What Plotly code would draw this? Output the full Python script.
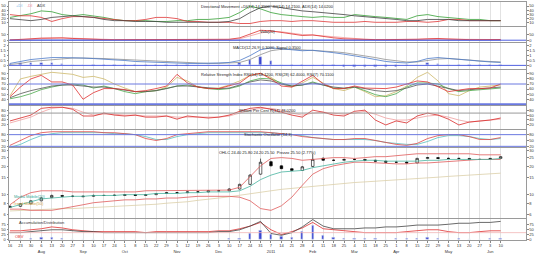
import plotly.graph_objects as go
from plotly.subplots import make_subplots
import pandas as pd

# ---------------- data (weekly readings) ----------------
dates = pd.date_range("2010-07-16", periods=48, freq="7D")

dmi_plus = [22,26,31,38,36,29,26,29,26,22, 17,14,14,14,12,12,14,14,17,17,
            19,22,34,50,43,34,29,26,24,22, 24,22,22,29,26,24,22,19,17,26,
            29,24,22,19,17,17,14,14]
dmi_minus = [29,26,26,22,12,19,24,24,22,19, 17,14,14,17,22,22,19,12,12,10,
             10,10,7,7,12,14,14,12,14,14, 12,10,10,10,12,10,10,10,12,12,
             10,12,17,17,14,14,14,14]
adx = [19,17,14,17,22,24,26,24,22,17, 14,14,12,12,12,10,10,10,10,10,
       10,12,19,34,46,50,46,41,38,36, 34,31,29,26,24,22,19,17,14,14,
       17,17,17,14,14,14,14,14]

vol_red = [2,5,12,18,22,20,15,10,6,5, 4,4,4,4,4,4,5,5,4,4,
           5,8,20,55,85,80,65,50,40,45, 30,20,12,8,6,5,5,5,6,8,
           12,15,10,6,5,5,5,6]
vol_pink = [2,3,8,14,18,19,17,13,9,7, 5,5,4,4,4,4,4,5,5,4,
            5,6,12,35,62,75,72,60,48,44, 36,26,18,12,8,6,5,5,5,7,
            9,12,11,8,6,5,5,5]
vol_blue = [1,1,1,1,1,1,1,1,1,1, 1,1,1,1,1,1,1,1,1,1,
            1,1,1,1,2,2,2,2,2,2, 1,1,1,1,1,1,1,1,1,1,
            1,1,1,1,1,1,1,1]

macd = [0.2,0.4,0.6,0.7,0.8,0.8,0.8,0.75,0.7,0.65, 0.6,0.5,0.4,0.35,0.3,0.25,0.2,0.2,0.2,0.2,
        0.25,0.3,0.5,1.0,1.6,1.8,1.7,1.6,1.5,1.55, 1.45,1.3,1.15,1.0,0.8,0.6,0.4,0.3,0.25,0.4,
        0.7,0.8,0.7,0.6,0.5,0.4,0.35,0.3]
macd_signal = [0.1,0.2,0.4,0.5,0.6,0.7,0.75,0.75,0.75,0.7, 0.65,0.6,0.5,0.45,0.4,0.35,0.3,0.25,0.2,0.2,
               0.2,0.25,0.3,0.6,1.1,1.5,1.65,1.65,1.6,1.55, 1.5,1.4,1.3,1.15,1.0,0.8,0.6,0.45,0.35,0.35,
               0.5,0.65,0.7,0.65,0.55,0.45,0.4,0.35]
macd_hist = [0.1,0.2,0.2,0.2,0.2,0.1,0.05,0,-0.05,-0.05, -0.05,-0.1,-0.1,-0.1,-0.1,-0.1,-0.1,-0.05,0,0,
             0.05,0.05,0.2,0.6,0.9,0.5,0.05,-0.05,-0.1,0, -0.05,-0.1,-0.15,-0.15,-0.2,-0.2,-0.2,-0.15,-0.1,0.05,
             0.2,0.15,0,-0.05,-0.05,-0.05,-0.05,-0.05]

rsi_tan = [47,80,85,89,93,91,89,83,85,80, 70,62,55,55,57,64,83,76,64,61,
           62,68,76,87,91,83,70,64,72,83, 72,61,57,64,55,45,47,55,66,83,
           93,76,51,47,57,64,66,68]
rsi_red = [45,64,80,87,74,74,68,40,53,61, 61,59,55,57,61,66,89,72,64,61,
           61,66,72,87,91,80,66,64,76,87, 70,61,61,66,62,61,61,64,70,76,
           74,64,55,58,61,61,62,70]
rsi_green = [41,45,51,59,64,68,70,68,62,66, 61,55,51,55,57,61,66,68,64,61,
             59,61,66,76,81,80,72,66,68,74, 68,62,61,64,57,49,45,51,64,72,
             72,70,61,55,57,59,61,62]
rsi_dark = [43,51,57,61,66,68,68,66,64,64, 61,57,55,55,57,61,66,66,64,62,
            61,62,68,74,78,76,70,66,68,72, 68,64,62,64,61,57,55,57,62,68,
            70,66,61,57,59,61,62,64]
rsi_levels = [70, 30]

willr_red = [35,48,61,91,96,96,87,57,57,70, 61,57,61,52,52,57,43,57,52,48,
             52,61,78,91,96,87,74,61,52,83, 74,61,57,78,83,39,17,35,26,57,
             70,61,43,17,30,35,39,48]
willr_pink = [26,39,52,74,91,96,91,74,61,65, 65,61,61,57,57,57,52,52,52,52,
              52,57,70,83,91,91,83,70,61,70, 74,70,65,70,78,65,48,39,39,48,
              57,61,52,39,30,35,39,43]
willr_levels = [70]

stoch_k = [25,50,75,90,95,95,95,95,95,90, 90,85,80,60,50,60,80,85,90,95,
           95,95,95,95,95,90,85,80,70,65, 60,55,55,60,60,50,40,30,25,35,
           60,75,80,80,70,55,55,65]
stoch_d = [15,30,55,75,85,90,90,90,90,90, 85,85,80,70,55,55,70,80,85,90,
           90,90,90,90,90,90,85,80,75,65, 60,55,55,55,55,50,40,35,30,30,
           45,65,75,75,70,60,55,60]
stoch_levels = [80, 20]

p_open = [7.2,7.4,7.9,8.5,9.2,9.7,9.5,9.4,9.5,9.7, 9.8,9.7,9.9,9.7,9.9,10.2,10.4,10.4,10.6,10.6,
          10.9,10.9,11.4,12.8,16.5,22.5,20.3,18.9,18.1,20.0, 24.5,23.3,23.3,23.8,23.8,23.3,22.8,22.2,22.2,21.8,
          24.4,24.9,24.4,24.4,24.4,23.8,23.8,24.4]
p_high = [7.6,8.0,8.6,9.3,9.9,9.8,9.7,9.7,9.9,9.9, 9.9,10.0,10.0,10.0,10.3,10.5,10.6,10.7,10.8,11.0,
          11.1,11.6,13.0,16.5,24.3,23.0,20.5,19.1,20.2,27.4, 25.0,23.8,24.2,24.3,24.0,23.6,23.0,22.6,22.6,24.8,
          25.3,25.1,24.9,24.8,24.6,24.2,24.6,25.8]
p_low = [7.1,7.3,7.8,8.4,9.1,9.4,9.3,9.3,9.4,9.6, 9.6,9.6,9.6,9.6,9.8,10.1,10.3,10.3,10.5,10.5,
         10.8,10.8,11.3,12.6,16.3,20.0,18.7,17.9,18.0,19.7, 23.0,23.0,23.1,23.5,23.1,22.6,22.0,21.9,21.6,21.7,
         24.2,24.1,24.1,24.1,23.6,23.6,23.6,24.2]
p_close = [7.4,7.9,8.5,9.1,9.7,9.5,9.5,9.5,9.7,9.7, 9.7,9.9,9.7,9.9,10.2,10.4,10.4,10.6,10.6,10.9,
           10.9,11.4,12.8,16.1,22.2,20.3,18.9,18.1,19.8,23.8, 23.3,23.3,23.8,23.8,23.3,22.8,22.2,22.2,21.8,24.4,
           24.9,24.4,24.4,24.4,23.8,23.8,24.4,25.5]
bb_upper = [7.7,9.3,10.4,10.9,10.9,10.9,10.6,10.6,10.6,10.6, 10.6,10.6,10.6,10.9,10.9,10.9,10.9,10.9,10.9,10.9,
            11.1,11.1,11.9,15.4,20.3,24.4,24.9,24.4,23.3,23.8, 24.4,24.9,24.9,24.4,24.9,25.5,25.5,26.1,26.7,27.4,
            27.4,27.4,27.4,27.4,27.4,26.7,26.7,26.7]
bb_lower = [6.9,6.9,6.7,6.7,6.7,7.0,7.4,7.7,8.1,8.3, 8.5,8.7,8.7,8.9,8.9,9.1,9.1,9.3,9.5,9.5,
            9.5,9.5,9.3,8.5,7.0,6.7,7.5,9.3,12.5,16.5, 18.9,20.3,21.3,22.2,22.2,21.8,21.3,21.3,21.3,21.8,
            21.8,22.2,22.8,23.3,23.8,23.8,23.8,23.8]
ma_short = [7.2,7.7,8.3,8.9,9.1,9.3,9.5,9.5,9.7,9.7, 9.7,9.9,9.9,9.9,10.2,10.2,10.2,10.4,10.4,10.6,
            10.6,10.6,10.9,12.2,14.4,16.1,17.4,17.7,18.1,19.4, 20.3,21.3,22.2,22.8,23.3,23.3,22.8,22.8,22.8,22.8,
            23.3,23.3,23.8,23.8,23.8,23.8,23.8,24.4]
ma_long = [6.6,6.7,6.8,6.8,6.9,7.0,7.0,7.1,7.2,7.3, 7.4,7.4,7.5,7.7,7.8,8.0,8.1,8.3,8.6,8.8,
           9.1,9.4,9.8,10.2,10.6,10.9,11.3,11.6,11.9,12.2, 12.5,12.8,13.1,13.4,13.6,13.8,14.0,14.3,14.5,14.8,
           15.0,15.3,15.6,15.9,16.1,16.4,16.6,16.9]

ad_line = [36,36,41,45,50,50,45,41,41,36, 36,36,36,36,36,36,36,36,36,36,
           41,41,50,68,91,32,23,36,64,100, 68,55,55,55,59,59,64,64,68,73,
           73,73,77,82,82,86,86,91]
obv_line = [45,45,50,55,64,59,50,45,41,41, 41,41,41,36,41,41,41,41,41,41,
            45,45,55,68,86,50,27,41,59,86, 55,50,45,41,36,36,36,36,41,45,
            50,50,41,36,36,41,45,45]
volume = [3,4,6,14,12,6,4,3,3,4, 3,3,3,4,3,3,4,3,3,4,
          4,5,8,30,45,25,15,10,40,70, 20,10,8,6,5,5,4,5,6,8,
          10,6,4,5,4,4,6,8]
vol_ref = [36]

panel_titles = [
    "Directional Movement +DI(14) 14.3500, -DI(14) 14.2100, ADX(14) 14.0200",
    "Vola(20)",
    "MACD(12,26,9) 0.3000, Signal 0.3500",
    "Relative Strength Index RSI(14) 68.1200, RSI(28) 62.4000, RSI(7) 70.1100",
    "William Per Cent R(14) 48.0200",
    "Stochastic Oscillator (14,3)",
    "OHLC 24.40 25.80 24.20 25.50  Prezzo 25.50 (2.77%)",
    "",
]
month_names = {1: "2011", 2: "Feb", 3: "Mar", 4: "Apr", 5: "May", 6: "Jun",
               7: "Jul", 8: "Aug", 9: "Sep", 10: "Oct", 11: "Nov", 12: "Dec"}

# ---------------- figure ----------------
FONT = "Liberation Sans"
fig = make_subplots(rows=8, cols=1, shared_xaxes=True, vertical_spacing=0)

def line(y, color, row, width=0.8, dash=None):
    fig.add_trace(go.Scatter(x=dates, y=y, mode="lines",
                             line=dict(color=color, width=width, dash=dash),
                             showlegend=False, hoverinfo="skip"), row=row, col=1)

# panel 1 DMI
line(dmi_plus, "#35a035", 1)
line(dmi_minus, "#e03535", 1)
line(adx, "#404040", 1)
# panel 2
line(vol_blue, "#3a4fd8", 2)
line(vol_pink, "#f29a9a", 2)
line(vol_red, "#e03030", 2)
# panel 3 MACD
fig.add_trace(go.Bar(x=dates, y=macd_hist, marker_color="#3a45d0", width=1.6 * 86400000,
                     showlegend=False, hoverinfo="skip"), row=3, col=1)
line(macd_signal, "#909090", 3)
line(macd, "#4a78c8", 3)
# panel 4 RSI
line(rsi_tan, "#cdb868", 4)
line(rsi_green, "#4aa84a", 4)
line(rsi_dark, "#555555", 4)
line(rsi_red, "#e03030", 4)
# panel 5 Williams
line(willr_pink, "#f0a0a0", 5)
line(willr_red, "#d82828", 5)
# panel 6 Stochastic
line(stoch_d, "#58c0c0", 6)
line(stoch_k, "#e04848", 6)
# panel 7 price
line(ma_long, "#dccfa8", 7)
line(bb_upper, "#e05a5a", 7)
line(bb_lower, "#e05a5a", 7)
line(ma_short, "#48b4a0", 7)
fig.add_trace(go.Candlestick(x=dates, open=p_open, high=p_high, low=p_low, close=p_close,
                             increasing=dict(line=dict(color="black", width=0.6), fillcolor="white"),
                             decreasing=dict(line=dict(color="black", width=0.6), fillcolor="black"),
                             whiskerwidth=0, showlegend=False, hoverinfo="skip"), row=7, col=1)
# panel 8 volume
fig.add_trace(go.Bar(x=dates, y=volume, marker_color="#3a45d0", width=1.6 * 86400000,
                     showlegend=False, hoverinfo="skip"), row=8, col=1)
line(obv_line, "#e03030", 8)
line(ad_line, "#444444", 8)

# ---------------- layout ----------------
domains = {1: [0.8939, 0.9959], 2: [0.8286, 0.8898], 3: [0.7143, 0.8245], 4: [0.5633, 0.7102],
           5: [0.4653, 0.5592], 6: [0.3878, 0.4612], 7: [0.0939, 0.3837], 8: [0.0, 0.0898]}
ycfg = {
    1: dict(range=[0, 60], tickvals=[10, 20, 30, 40, 50]),
    2: dict(range=[-15, 110], tickvals=[0, 50]),
    3: dict(range=[-0.4, 2.3], tickvals=[0, 0.5, 1, 1.5, 2]),
    4: dict(range=[28, 97], tickvals=[40, 50, 60, 70, 80, 90]),
    5: dict(range=[0, 100], tickvals=[20, 40, 60, 80]),
    6: dict(range=[15, 105], tickvals=[20, 50, 80]),
    7: dict(type="log", range=[0.748, 1.497], tickvals=[6, 8, 10, 15, 20, 25, 30]),
    8: dict(range=[0, 105], tickvals=[0, 25, 50, 75]),
}
x_range = ["2010-07-15 08:00", "2011-06-27"]

tickfont = dict(family=FONT, size=4, color="#333")
for r in range(1, 9):
    yname = "yaxis" if r == 1 else f"yaxis{r}"
    fig.layout[yname].update(domain=domains[r], side="right", showgrid=False, zeroline=False,
                             showline=True, mirror=True, linecolor="#9a9a9a", linewidth=1,
                             ticks="outside", ticklen=1.5, tickcolor="#888",
                             tickfont=tickfont, **ycfg[r])
    # left-side labels on an overlay axis
    ov = r + 8
    xs = "x" if r == 1 else f"x{r}"
    ys = "y" if r == 1 else f"y{r}"
    fig.add_trace(go.Scatter(x=[dates[0]], y=[None], xaxis=xs, yaxis=f"y{ov}",
                             showlegend=False, hoverinfo="skip", mode="lines"))
    fig.layout[f"yaxis{ov}"] = dict(overlaying=ys, side="left", anchor=xs, showgrid=False,
                                    zeroline=False, ticks="outside", ticklen=1.5, tickcolor="#888",
                                    tickfont=tickfont, **ycfg[r])

tickvals = list(dates)
ticktext = []
prev_month = dates[0].month
for d in dates:
    t = str(d.day)
    if d.month != prev_month:
        t += "<br>" + month_names[d.month]
        prev_month = d.month
    ticktext.append(t)

fig.update_xaxes(range=x_range, showgrid=True, gridcolor="#e2e2e2", gridwidth=0.6,
                 tickvals=tickvals, ticktext=ticktext, showticklabels=False,
                 showline=True, mirror=True, linecolor="#9a9a9a", linewidth=1,
                 rangeslider_visible=False, zeroline=False)
fig.update_xaxes(showticklabels=True, tickfont=tickfont, ticks="outside", ticklen=1.5,
                 tickcolor="#888", tickangle=0, row=8, col=1)

shapes = []
for lv in rsi_levels:
    shapes.append(dict(type="line", xref="x4 domain", x0=0, x1=1, yref="y4", y0=lv, y1=lv,
                       line=dict(color="#6a78e0", width=1 if lv == 70 else 2)))
for lv in willr_levels:
    shapes.append(dict(type="line", xref="x5 domain", x0=0, x1=1, yref="y5", y0=lv, y1=lv,
                       line=dict(color="#999999", width=1)))
for lv in stoch_levels:
    shapes.append(dict(type="line", xref="x6 domain", x0=0, x1=1, yref="y6", y0=lv, y1=lv,
                       line=dict(color="#6a78e0", width=1)))
shapes.append(dict(type="line", xref="x3 domain", x0=0, x1=1, yref="y3", y0=0, y1=0,
                   line=dict(color="#5060e0", width=1)))
shapes.append(dict(type="line", xref="x2 domain", x0=0, x1=1, yref="y2", y0=0, y1=0,
                   line=dict(color="#5060e0", width=1)))
for lv in vol_ref:
    shapes.append(dict(type="line", xref="x8 domain", x0=0, x1=1, yref="y8", y0=lv, y1=lv,
                       line=dict(color="#f2b8b8", width=0.8)))

annotations = []
for r in range(1, 9):
    if panel_titles[r - 1]:
        annotations.append(dict(text=panel_titles[r - 1], xref="paper", yref="paper",
                                x=0.5, y=domains[r][1], xanchor="center", yanchor="top",
                                showarrow=False, font=dict(family=FONT, size=4, color="#222")))
legend_items = [("+DI", "#7ab8e8", 0.010), ("-DI", "#f07a9a", 0.030), ("ADX", "#333333", 0.050)]
for txt, col, xx in legend_items:
    annotations.append(dict(text=txt, xref="paper", yref="paper", x=xx, y=0.982,
                            xanchor="left", yanchor="middle", showarrow=False,
                            font=dict(family=FONT, size=4, color=col)))
side_labels = [("Media Mobile(20)", "#3aa898", 0.006, 0.184),
               ("Trend Mobile(50)", "#d0a040", 0.004, 0.151),
               ("Accumulation/Distribution", "#333333", 0.016, 0.073),
               ("OBV", "#e03030", 0.008, 0.016)]
for txt, col, xx, yy in side_labels:
    annotations.append(dict(text=txt, xref="paper", yref="paper", x=xx, y=yy,
                            xanchor="left", yanchor="middle", showarrow=False,
                            font=dict(family=FONT, size=4, color=col)))

fig.update_layout(width=536, height=254, margin=dict(l=9, r=10, t=0, b=9),
                  paper_bgcolor="white", plot_bgcolor="white", showlegend=False,
                  bargap=0, boxgap=0.65, shapes=shapes, annotations=annotations,
                  font=dict(family=FONT, size=4))

fig.write_html("out.html")
